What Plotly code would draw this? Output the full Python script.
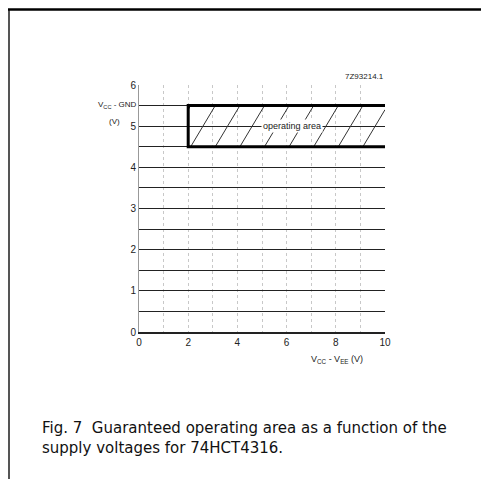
import numpy as np
import plotly.graph_objects as go

# ---- data ----
x_ticks = [0, 2, 4, 6, 8, 10]
y_ticks = [0, 1, 2, 3, 4, 5, 6]
area_x = [2, 10]          # Vcc - Vee range of operating area (V)
area_y = [4.5, 5.5]       # Vcc - GND range of operating area (V)
hatch_pitch = 1.0
hatch_offset = 2.1
area_label = "operating area"
code_label = "7Z93214.1"
caption = "Fig. 7  Guaranteed operating area as a function of the<br>supply voltages for 74HCT4316."

OFF = 8                    # page offset of the figure (body margin)
W, H = 489 - OFF, 479 - OFF
L, T = 139 - OFF, 85 - OFF
R, B = 489 - 385, 479 - 332
pw, ph = W - L - R, H - T - B

def px_to_paper_x(px):
    return (px - OFF - L) / pw

def px_to_paper_y(py):
    return (H + OFF - B - py) / ph

fig = go.Figure()

x0, x1 = area_x
y0, y1 = area_y

# hatch lines (slope 1 in data units), clipped to the rectangle
hx, hy = [], []
dy = y1 - y0
for a in np.arange(hatch_offset - dy, x1, hatch_pitch):
    xs, xe = a, a + dy
    ys, ye = y0, y1
    if xs < x0:
        ys = y0 + (x0 - xs)
        xs = x0
    if xe > x1:
        ye = y1 - (xe - x1)
        xe = x1
    if xe > xs:
        hx += [xs, xe, None]
        hy += [ys, ye, None]
fig.add_trace(go.Scatter(x=hx, y=hy, mode="lines",
                         line=dict(color="#333", width=1),
                         hoverinfo="skip", showlegend=False))

# operating area border (open on the right)
fig.add_trace(go.Scatter(x=[x1, x0, x0, x1], y=[y1, y1, y0, y0], mode="lines",
                         line=dict(color="black", width=3),
                         hoverinfo="skip", showlegend=False))

fig.add_annotation(x=6.2, y=5, text=area_label, showarrow=False,
                   font=dict(family="Liberation Sans", size=9, color="#222"),
                   bgcolor="white", borderpad=1)

fig.update_xaxes(range=[0, 10], tickvals=x_ticks, ticktext=[str(v) for v in x_ticks],
                 showgrid=False,
                 minor=dict(dtick=1, showgrid=True, gridcolor="#c8c8c8", griddash="dot", gridwidth=1),
                 showline=True, linecolor="#222", linewidth=1.5,
                 zeroline=False, ticks="",
                 tickfont=dict(family="Liberation Sans", size=10, color="#222"),
                 fixedrange=True)
fig.update_yaxes(range=[0, 6], tickvals=y_ticks, ticktext=[str(v) for v in y_ticks],
                 showgrid=True, gridcolor="#222", gridwidth=1.2,
                 minor=dict(dtick=0.5, showgrid=True, gridcolor="#222", gridwidth=1.2),
                 showline=True, linecolor="#999", linewidth=1,
                 zeroline=False, ticks="",
                 tickfont=dict(family="Liberation Sans", size=10, color="#222"),
                 fixedrange=True)

# axis titles
fig.add_annotation(xref="paper", yref="paper", x=px_to_paper_x(117), y=px_to_paper_y(105),
                   xanchor="center", yanchor="middle",
                   text="V<sub>CC</sub> - GND", showarrow=False,
                   font=dict(family="Liberation Sans", size=8, color="#222"))
fig.add_annotation(xref="paper", yref="paper", x=px_to_paper_x(107), y=px_to_paper_y(121),
                   xanchor="left", yanchor="middle",
                   text="(V)", showarrow=False,
                   font=dict(family="Liberation Sans", size=8, color="#222"))
fig.add_annotation(xref="paper", yref="paper", x=px_to_paper_x(337), y=px_to_paper_y(359),
                   xanchor="center", yanchor="middle",
                   text="V<sub>CC</sub> - V<sub>EE</sub> (V)", showarrow=False,
                   font=dict(family="Liberation Sans", size=9, color="#222"))
fig.add_annotation(xref="paper", yref="paper", x=px_to_paper_x(364), y=px_to_paper_y(77),
                   xanchor="center", yanchor="middle",
                   text=code_label, showarrow=False,
                   font=dict(family="Liberation Sans", size=8, color="#222"))

# caption
fig.add_annotation(xref="paper", yref="paper", x=px_to_paper_x(40), y=px_to_paper_y(417),
                   xanchor="left", yanchor="top", align="left",
                   text=caption, showarrow=False,
                   font=dict(family="DejaVu Sans", size=15, color="#111"))

# page frame
fig.add_shape(type="line", xref="paper", yref="paper",
              x0=px_to_paper_x(9), x1=px_to_paper_x(9),
              y0=px_to_paper_y(9), y1=px_to_paper_y(479),
              line=dict(color="#555", width=2))
fig.add_shape(type="line", xref="paper", yref="paper",
              x0=px_to_paper_x(8), x1=px_to_paper_x(489),
              y0=px_to_paper_y(9.5), y1=px_to_paper_y(9.5),
              line=dict(color="black", width=2.5))

fig.update_layout(width=W, height=H, margin=dict(l=L, r=R, t=T, b=B),
                  paper_bgcolor="white", plot_bgcolor="white",
                  showlegend=False)

fig.write_html("out.html")
